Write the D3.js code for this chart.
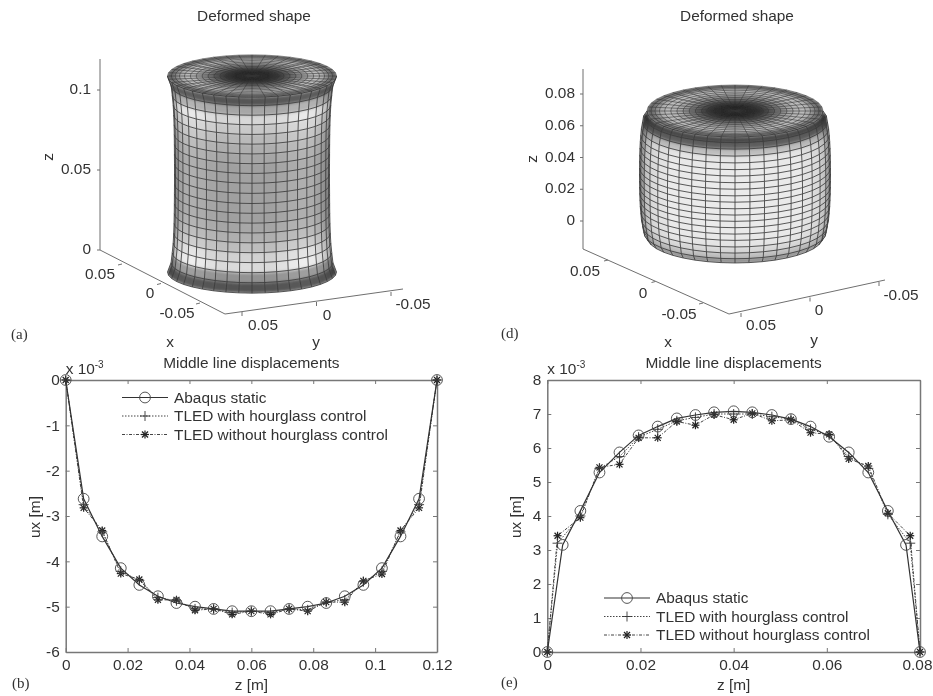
<!DOCTYPE html>
<html><head><meta charset="utf-8">
<script src="https://cdnjs.cloudflare.com/ajax/libs/d3/7.8.5/d3.min.js"></script>
<style>
html,body{margin:0;padding:0;background:#fff;}
svg{display:block;}
text{font-family:"Liberation Sans",Arial,sans-serif;font-size:15.4px;fill:#333;}
.serif{font-family:"Liberation Serif",serif;font-size:15px;}
</style></head><body>
<svg id="chart" width="933" height="696"></svg>
<script>
// ---------- Series data, panel (b): middle line displacement, compression
const zB = [0,0.0058,0.0118,0.0178,0.0238,0.0298,0.0358,0.0418,0.0478,0.0538,0.06,0.0662,0.0722,0.0782,0.0842,0.0902,0.0962,0.1022,0.1082,0.1142,0.12];
const abaqusB = [0,-2.62,-3.45,-4.15,-4.52,-4.77,-4.92,-5.0,-5.05,-5.1,-5.1,-5.1,-5.05,-5.0,-4.92,-4.77,-4.52,-4.15,-3.45,-2.62,0];
const hourB = [0,-2.75,-3.35,-4.22,-4.42,-4.8,-4.87,-5.05,-5.05,-5.13,-5.1,-5.13,-5.05,-5.07,-4.9,-4.85,-4.45,-4.22,-3.35,-2.75,0];
const noHourB = [0,-2.82,-3.32,-4.27,-4.4,-4.85,-4.85,-5.08,-5.05,-5.17,-5.1,-5.17,-5.05,-5.1,-4.9,-4.9,-4.43,-4.28,-3.32,-2.82,0];

// ---------- Series data, panel (e): middle line displacement, extension
const zAbaqusE = [0,0.0033,0.0071,0.0112,0.0155,0.0196,0.0237,0.0278,0.0318,0.0358,0.04,0.044,0.0482,0.0523,0.0565,0.0605,0.0647,0.0689,0.0731,0.077,0.08];
const zTledE = [0,0.0022,0.0071,0.0112,0.0155,0.0196,0.0237,0.0278,0.0318,0.0358,0.04,0.044,0.0482,0.0523,0.0565,0.0605,0.0647,0.0689,0.0731,0.0779,0.08];
const abaqusE = [0,3.15,4.15,5.28,5.87,6.37,6.63,6.87,6.97,7.05,7.08,7.05,6.97,6.85,6.63,6.33,5.87,5.28,4.15,3.15,0];
const hourE = [0,3.2,4.0,5.4,5.75,6.32,6.55,6.8,6.9,7.0,7.0,7.0,6.92,6.85,6.55,6.38,5.75,5.4,4.05,3.2,0];
const noHourE = [0,3.42,3.95,5.43,5.52,6.3,6.3,6.78,6.67,6.98,6.83,7.02,6.8,6.83,6.45,6.4,5.68,5.47,4.08,3.42,0];

// ---------- Tick labels
const xTicksB = [0,0.02,0.04,0.06,0.08,0.1,0.12];
const yTicksB = [0,-1,-2,-3,-4,-5,-6];
const xTicksE = [0,0.02,0.04,0.06,0.08];
const yTicksE = [0,1,2,3,4,5,6,7,8];
const zTicksA = [0,0.05,0.1];
const zTicksD = [0,0.02,0.04,0.06,0.08];
const horizTicks = [0.05,0,-0.05];
const legendLabels = ["Abaqus static","TLED with hourglass control","TLED without hourglass control"];

// ---------- Surface shading (grey level per mesh row, bottom to top, and across the front)
const shadeA = [85,150,225,215,195,180,170,165,165,165,165,165,165,170,178,190,205,220,170,88];
const shadeD = [135,190,215,228,232,234,234,234,234,234,234,234,234,234,234,232,228,190,95,72];
const acrossA = [0.62,0.76,0.88,0.98,1.04,1.06,1.04,1.0,0.97,0.97,0.98,0.97,0.97,1.0,1.04,1.06,1.04,0.98,0.86,0.64];
const acrossD = [0.42,0.66,0.84,0.93,0.97,1,1,1,1,1,1,1,1,1,1,0.97,0.93,0.84,0.66,0.42];
const capFractions = [1,0.955,0.91,0.86,0.8,0.73,0.66,0.59,0.52,0.45,0.38,0.32,0.26,0.21,0.16,0.12,0.08,0.05,0.02,0];
const capShade = [95,112,140,172,185,180,165,145,120,95,70,50,35,25,18,14,10,8,8];
const meshAngles = d3.range(0,41);

const svg = d3.select("#chart");
const defs = svg.append("defs");
function blur(id,s){
  defs.append("filter").attr("id",id).attr("x","-10%").attr("y","-10%").attr("width","120%").attr("height","120%")
    .append("feGaussianBlur").attr("stdDeviation",s);
}
blur("soft",0.65); blur("wide",1.7); blur("capwide",1);
const root = svg.append("g").attr("filter","url(#soft)");

function label(parent,x,y,t,anchor,cls){
  return parent.append("text").attr("x",x).attr("y",y).attr("text-anchor",anchor||"middle").attr("class",cls||null).text(t);
}
label(root,11,339,"(a)","start","serif");
label(root,501,338,"(d)","start","serif");
label(root,12,688,"(b)","start","serif");
label(root,501,687,"(e)","start","serif");

// ---------- 3D panels
function panel3D(o){
  const g = root.append("g");
  label(g,o.titleX,21,"Deformed shape");
  const zy = d3.scaleLinear().domain(o.zDomain).range(o.zRange);
  const xx = d3.scaleLinear().domain([0.05,-0.05]).range(o.xTickX);
  const xy = d3.scaleLinear().domain([0.05,-0.05]).range(o.xTickY);
  const yx = d3.scaleLinear().domain([0.05,-0.05]).range(o.yTickX);
  const yy = d3.scaleLinear().domain([0.05,-0.05]).range(o.yTickY);
  const axisCol = "#6f6f6f";
  const seg = (a,b,c,d)=>g.append("line").attr("x1",a).attr("y1",b).attr("x2",c).attr("y2",d).attr("stroke",axisCol).attr("stroke-width",1);
  seg(o.origin[0],o.origin[1],o.origin[0],o.zTop);
  seg(o.origin[0],o.origin[1],o.corner[0],o.corner[1]);
  seg(o.corner[0],o.corner[1],o.yEnd[0],o.yEnd[1]);
  o.zTicks.forEach(v=>{
    seg(o.origin[0],zy(v),o.origin[0]-3,zy(v));
    label(g,o.zLabelX,zy(v)+o.zLabelDy,String(v),"end");
  });
  horizTicks.forEach((v,i)=>{
    seg(xx(v),xy(v),xx(v)-4,xy(v)+1);
    label(g,o.xLabels[i][0],o.xLabels[i][1],String(v));
    seg(yx(v),yy(v),yx(v),yy(v)+4);
    label(g,o.yLabels[i][0],o.yLabels[i][1],String(v));
  });
  label(g,o.xName[0],o.xName[1],"x");
  label(g,o.yName[0],o.yName[1],"y");
  g.append("text").attr("transform",`translate(${o.zName[0]},${o.zName[1]}) rotate(-90)`).attr("text-anchor","middle").text("z");

  // surface of revolution whose profile is the Abaqus middle-line displacement
  const height = d3.scaleLinear().domain([0,o.h]).range([o.yBottom,o.yTop]);
  const rad = d3.scaleLinear().domain(o.uRange).range(o.rRange);
  const pt = (z,u,i)=>{
    const th = i*Math.PI/20, r = rad(u);
    return [o.cx+r*Math.cos(th), height(z)+r*o.k*Math.sin(th)];
  };
  const line = d3.line();
  const sideQuads=[];
  for(let row=0;row<o.z.length-1;row++){
    for(let col=0;col<20;col++){
      const v=Math.min(245,Math.round(o.shade[row]*o.across[col]));
      sideQuads.push({v,p:[pt(o.z[row],o.u[row],col),pt(o.z[row],o.u[row],col+1),pt(o.z[row+1],o.u[row+1],col+1),pt(o.z[row+1],o.u[row+1],col)]});
    }
  }
  defs.append("clipPath").attr("id","side"+o.id).append("path").attr("d",sideQuads.map(q=>line(q.p)+"Z").join(""));
  const sideFill=g.append("g").attr("clip-path",`url(#side${o.id})`).append("g").attr("filter","url(#wide)");
  sideQuads.forEach(q=>sideFill.append("path").attr("d",line(q.p)+"Z").attr("fill",`rgb(${q.v},${q.v},${q.v})`).attr("stroke",`rgb(${q.v},${q.v},${q.v})`).attr("stroke-width",0.6));
  const mesh=g.append("g").attr("fill","none").attr("stroke","#3c3c3c").attr("stroke-width",0.85);
  o.z.forEach((z,row)=>mesh.append("path").attr("d",line(d3.range(21).map(i=>pt(z,o.u[row],i)))));
  d3.range(21).forEach(i=>mesh.append("path").attr("d",line(o.z.map((z,row)=>pt(z,o.u[row],i)))));

  // top cap
  const capPt=(f,i)=>{
    const th=i*Math.PI/20, r=o.rRange[0]*f;
    return [o.cx+r*Math.cos(th), height(o.h)+r*o.k*Math.sin(th)];
  };
  const capOutline=line(meshAngles.map(i=>capPt(1,i)))+"Z";
  defs.append("clipPath").attr("id","cap"+o.id).append("path").attr("d",capOutline);
  const capFill=g.append("g").attr("clip-path",`url(#cap${o.id})`).append("g").attr("filter","url(#capwide)");
  capFractions.slice(0,-1).forEach((f,ri)=>{
    const f2=capFractions[ri+1], v=capShade[ri];
    meshAngles.slice(0,-1).forEach(i=>{
      capFill.append("path").attr("d",line([capPt(f,i),capPt(f,i+1),capPt(f2,i+1),capPt(f2,i)])+"Z").attr("fill",`rgb(${v},${v},${v})`).attr("stroke",`rgb(${v},${v},${v})`).attr("stroke-width",0.5);
    });
  });
  const capMesh=g.append("g").attr("fill","none").attr("stroke","#333").attr("stroke-width",0.55);
  capFractions.slice(0,-1).forEach(f=>capMesh.append("path").attr("d",line(meshAngles.map(i=>capPt(f,i)))+"Z"));
  meshAngles.slice(0,-1).forEach(i=>capMesh.append("path").attr("d",line([capPt(1,i),capPt(0,i)])));
}
panel3D({id:"a",titleX:254,zDomain:[0,0.1],zRange:[250,90],zTicks:zTicksA,origin:[100,250],zTop:59,corner:[225,314],yEnd:[403,289],
  xTickX:[122,200],xTickY:[264,303],yTickX:[242,391],yTickY:[312,292],zLabelX:91,zLabelDy:4,
  xLabels:[[100,279],[150,298],[177,318]],yLabels:[[263,330],[327,320],[413,309]],
  xName:[170,347],yName:[316,347],zName:[53,157],
  h:0.12,z:zB,u:abaqusB,shade:shadeA,across:acrossA,cx:252,yBottom:272,yTop:76,uRange:[0,-5.1],rRange:[84.5,77.5],k:0.25});
panel3D({id:"d",titleX:737,zDomain:[0,0.08],zRange:[221,94],zTicks:zTicksD,origin:[583,249],zTop:69,corner:[729,314],yEnd:[885,280],
  xTickX:[608,703],xTickY:[260,303],yTickX:[741,879],yTickY:[313,282],zLabelX:575,zLabelDy:4,
  xLabels:[[585,276],[643,298],[679,319]],yLabels:[[761,330],[819,315],[901,300]],
  xName:[668,347],yName:[814,345],zName:[537,159],
  h:0.08,z:zAbaqusE,u:abaqusE,shade:shadeD,across:acrossD,cx:735,yBottom:237,yTop:111,uRange:[0,7.08],rRange:[88,95.5],k:0.295});

// ---------- 2D panels
const styles=[{dash:null,col:"#333",w:1.2,mark:"circle"},{dash:"1.5,1.5",col:"#444",w:1,mark:"plus"},{dash:"3,1.5,1,1.5",col:"#444",w:1,mark:"star"}];
function marker(g,x,y,kind){
  const m=g.append("g").attr("transform",`translate(${x},${y})`).attr("fill","none").attr("stroke","#333").attr("stroke-width",0.9);
  if(kind==="circle"){m.append("circle").attr("r",5.4).attr("stroke","#444");return;}
  if(kind==="plus"){
    [[-5,0,5,0],[0,-5,0,5]].forEach(a=>m.append("line").attr("x1",a[0]).attr("y1",a[1]).attr("x2",a[2]).attr("y2",a[3]));
  } else {
    [[-4,0,4,0],[0,-4,0,4],[-3,-3,3,3],[-3,3,3,-3]].forEach(a=>m.append("line").attr("x1",a[0]).attr("y1",a[1]).attr("x2",a[2]).attr("y2",a[3]).attr("stroke-width",1.2).attr("stroke","#222"));
  }
}
function panel2D(o){
  const g=root.append("g");
  const x=d3.scaleLinear().domain(o.xDomain).range(o.xRange);
  const y=d3.scaleLinear().domain(o.yDomain).range([652,380]);
  const bottomAxis=g.append("g").attr("transform","translate(0,652)").call(d3.axisBottom(x).tickValues(o.xTicks).tickSizeInner(-4).tickSizeOuter(0).tickPadding(7).tickFormat(String));
  g.append("g").attr("transform",`translate(${o.xRange[0]},0)`).call(d3.axisLeft(y).tickValues(o.yTicks).tickSizeInner(-4).tickSizeOuter(0).tickPadding(6).tickFormat(String));
  g.append("g").attr("transform","translate(0,380)").call(d3.axisTop(x).tickValues(o.xTicks).tickSizeInner(-4).tickSizeOuter(0).tickFormat(""));
  g.append("g").attr("transform",`translate(${o.xRange[1]},0)`).call(d3.axisRight(y).tickValues(o.yTicks).tickSizeInner(-4).tickSizeOuter(0).tickFormat(""));
  g.selectAll(".tick text").style("font-size","15.4px").style("font-family",'"Liberation Sans",Arial,sans-serif');
  g.selectAll(".domain").attr("stroke","#777").attr("stroke-width",1.5);
  g.selectAll(".tick line").attr("stroke","#777");
  if(o.lastTickShift){
    bottomAxis.selectAll(".tick text").filter(d=>d===o.xTicks[o.xTicks.length-1]).attr("dx",o.lastTickShift);
  }
  const lineGen=d3.line().x(d=>x(d[0])).y(d=>y(d[1]));
  [2,1,0].forEach(k=>{
    const pts=d3.zip(o.xs[k],o.series[k]);
    g.append("path").attr("d",lineGen(pts)).attr("fill","none").attr("stroke",styles[k].col).attr("stroke-width",styles[k].w).attr("stroke-dasharray",styles[k].dash);
    pts.forEach(p=>marker(g,x(p[0]),y(p[1]),styles[k].mark));
  });
  legendLabels.forEach((t,i)=>{
    const ly=o.legendY+i*18.5;
    g.append("line").attr("x1",o.legendX).attr("x2",o.legendX+46).attr("y1",ly).attr("y2",ly).attr("stroke",styles[i].col).attr("stroke-width",styles[i].w).attr("stroke-dasharray",styles[i].dash);
    marker(g,o.legendX+23,ly,styles[i].mark);
    label(g,o.legendX+52,ly+5,t,"start");
  });
  const c=(o.xRange[0]+o.xRange[1])/2;
  label(g,c,368,"Middle line displacements");
  label(g,c,690,"z [m]");
  g.append("text").attr("transform",`translate(${o.xRange[0]-26},517) rotate(-90)`).attr("text-anchor","middle").text("ux [m]");
  const e=g.append("text").attr("x",o.xRange[0]).attr("y",374).text("x 10");
  e.append("tspan").attr("dy",-6).style("font-size","10px").text("-3");
}
panel2D({xDomain:[0,0.12],xRange:[65.7,437],yDomain:[-6,0],xTicks:xTicksB,yTicks:yTicksB,
  xs:[zB,zB,zB],series:[abaqusB,hourB,noHourB],legendX:122,legendY:397.5});
panel2D({xDomain:[0,0.08],xRange:[547.3,920],yDomain:[0,8],xTicks:xTicksE,yTicks:yTicksE,lastTickShift:-3,
  xs:[zAbaqusE,zTledE,zTledE],series:[abaqusE,hourE,noHourE],legendX:604,legendY:598});
</script>
</body></html>
